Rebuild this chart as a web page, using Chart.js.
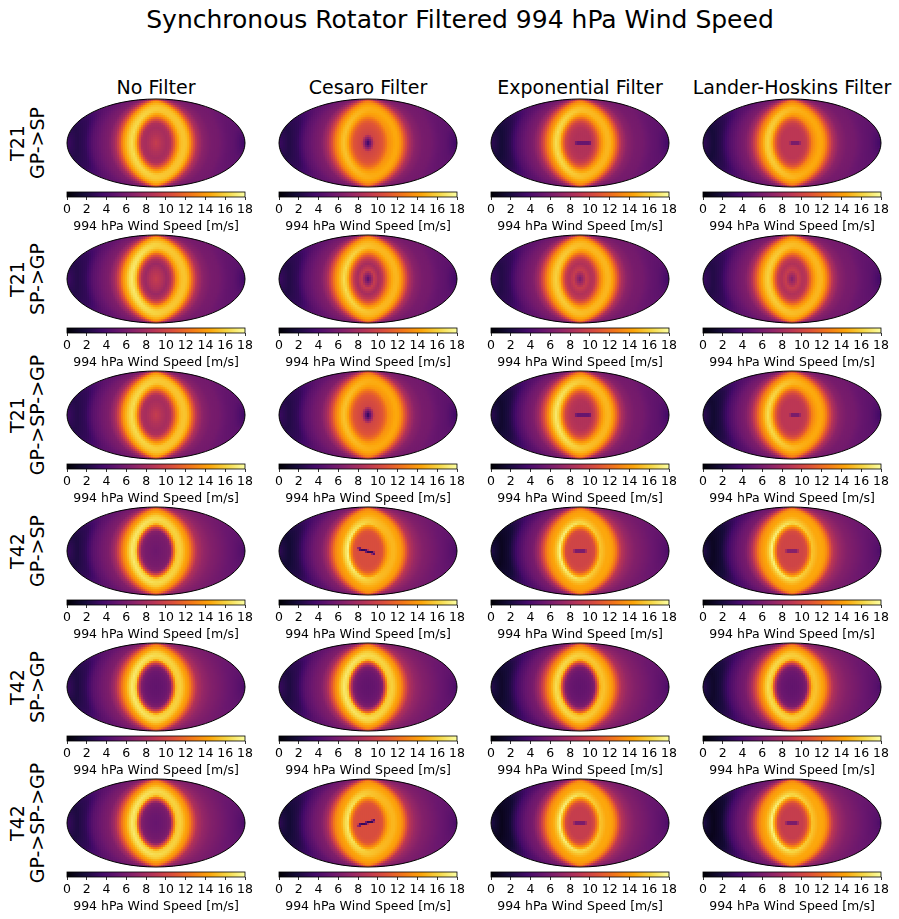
<!DOCTYPE html>
<html>
<head>
<meta charset="utf-8">
<script src="https://cdn.jsdelivr.net/npm/chart.js@4.4.1/dist/chart.umd.min.js"></script>
<style>
  body { margin: 0; background: #fff; width: 899px; height: 919px; position: relative; overflow: hidden; font-family: "DejaVu Sans", sans-serif; }
  canvas { position: absolute; }
  .txt { position: absolute; white-space: nowrap; color: #000; line-height: 1; transform: translate(-50%, -50%); }
  .rowlab { position: absolute; white-space: nowrap; color: #000; font-size: 19px; line-height: 20px; text-align: center; transform: translate(-50%, -50%) rotate(-90deg); }
</style>
</head>
<body>
<script>
// wind speed profiles (m/s), against angular distance (deg) from the substellar point
// W = western half of the map, E = eastern half
const angles = [0, 13, 22, 29, 35, 41, 48, 54, 60, 67, 73, 83, 95, 111, 127, 143, 159, 172, 180];

const t21GpSpNoneW   = [9.5, 8.5, 8, 8.5, 11.5, 15, 16.5, 16, 15, 13.5, 11, 8, 6.3, 5.6, 4.7, 3, 2.4, 3, 3.5];
const t21GpSpNoneE   = [9.5, 8.5, 8, 8.5, 10.5, 13, 15, 15.5, 15.5, 14.5, 12, 8.5, 6.8, 6, 5.8, 5.2, 4.8, 4, 3.5];
const t21GpSpCesaroW = [3, 10, 10.5, 11, 12.5, 14.5, 15.5, 15, 14, 12.5, 10.5, 8, 6.3, 5.6, 4.7, 3, 2.3, 2.9, 3.4];
const t21GpSpCesaroE = [3, 10, 10.5, 11, 12, 13.5, 14, 14.5, 14.5, 13.5, 11.5, 8.5, 6.8, 6, 5.8, 5.2, 4.8, 4, 3.5];
const t21GpSpExpW    = [8.5, 8.5, 9, 10, 12.5, 15.5, 16.5, 15.5, 14, 12.5, 10.5, 7.8, 6.2, 5.4, 4.3, 2.5, 1.7, 2.4, 3];
const t21GpSpExpE    = [8.5, 8.5, 8.5, 9.5, 11, 13, 14.5, 15, 15, 14, 12, 8.5, 6.8, 6, 5.8, 5.2, 4.8, 4, 3.5];
const t21GpSpLhW     = [9, 9, 9, 10, 12, 15, 16, 15.5, 14, 12.5, 10.5, 7.8, 6.2, 5.4, 4.3, 2.6, 1.8, 2.5, 3];
const t21GpSpLhE     = [9, 9, 9, 9.5, 11, 13, 14, 14.5, 14.5, 13.5, 11.5, 8.5, 6.8, 6, 5.8, 5.2, 4.8, 4, 3.5];

const t21SpGpNoneW   = [9.5, 8.5, 7.5, 8.5, 11.5, 15.5, 17, 16.5, 15, 13.5, 11, 8, 6.3, 5.6, 4.7, 3, 2.4, 3, 3.5];
const t21SpGpNoneE   = [9.5, 8.5, 7.5, 8.5, 10.5, 13.5, 15, 15.5, 15.5, 14.5, 12, 8.5, 6.8, 6, 5.8, 5.2, 4.8, 4, 3.5];
const t21SpGpCesaroW = [4.5, 9.5, 8, 9.5, 12, 15, 16.5, 15.5, 14.5, 13, 11, 8, 6.3, 5.6, 4.7, 3, 2.3, 2.9, 3.4];
const t21SpGpCesaroE = [4.5, 9.5, 8, 9, 11, 13, 14.5, 15, 15, 14, 12, 8.5, 6.8, 6, 5.8, 5.2, 4.8, 4, 3.5];
const t21SpGpExpW    = [6, 9.5, 8.5, 9.5, 12, 15, 16, 15.5, 14.5, 13, 11, 8, 6.3, 5.6, 4.7, 3, 2.3, 2.9, 3.4];
const t21SpGpExpE    = [6, 9.5, 8.5, 9, 11, 13, 14.5, 15, 15, 14, 12, 8.5, 6.8, 6, 5.8, 5.2, 4.8, 4, 3.5];
const t21SpGpLhW     = [6.5, 9.5, 8.5, 9.5, 12, 15, 16, 15.5, 14.5, 13, 11, 8, 6.3, 5.6, 4.7, 3, 2.3, 2.9, 3.4];
const t21SpGpLhE     = [6.5, 9.5, 8.5, 9, 11, 13, 14.5, 15, 15, 14, 12, 8.5, 6.8, 6, 5.8, 5.2, 4.8, 4, 3.5];

const t21GpSpGpNoneW   = [9.5, 8.5, 8, 8.5, 11.5, 15, 16.5, 16, 15, 13.5, 11, 8, 6.3, 5.6, 4.7, 3, 2.4, 3, 3.5];
const t21GpSpGpNoneE   = [9.5, 8.5, 8, 8.5, 10.5, 13, 15, 15.5, 15.5, 14.5, 12, 8.5, 6.8, 6, 5.8, 5.2, 4.8, 4, 3.5];
const t21GpSpGpCesaroW = [2.5, 10, 10.5, 11, 12.5, 14.5, 15.5, 15, 14, 12.5, 10.5, 8, 6.3, 5.6, 4.7, 3, 2.3, 2.9, 3.4];
const t21GpSpGpCesaroE = [2.5, 10, 10.5, 11, 12, 13.5, 14, 14.5, 14.5, 13.5, 11.5, 8.5, 6.8, 6, 5.8, 5.2, 4.8, 4, 3.5];
const t21GpSpGpExpW    = [8.5, 8.5, 9, 10, 12.5, 15.5, 17, 16, 14.5, 12.5, 10.5, 7.8, 6.2, 5.4, 4.1, 2.2, 1.4, 2.2, 2.9];
const t21GpSpGpExpE    = [8.5, 8.5, 8.5, 9.5, 11, 13, 14.5, 15, 15, 14, 12, 8.5, 6.8, 6, 5.8, 5.2, 4.8, 4, 3.5];
const t21GpSpGpLhW     = [9, 9, 9, 10, 12, 15, 16.5, 15.5, 14, 12.5, 10.5, 7.8, 6.2, 5.4, 4.1, 2.3, 1.5, 2.3, 2.9];
const t21GpSpGpLhE     = [9, 9, 9, 9.5, 11, 13, 14, 14.5, 14.5, 13.5, 11.5, 8.5, 6.8, 6, 5.8, 5.2, 4.8, 4, 3.5];

const t42GpSpNoneW   = [5.5, 5.8, 6, 6.8, 10, 16, 17, 16, 14.5, 13, 11, 8, 6.3, 5.6, 4.7, 2.9, 2.1, 2.8, 3.3];
const t42GpSpNoneE   = [5.5, 5.8, 6, 6.5, 11.5, 15.5, 16, 15.5, 14.5, 13.5, 11.5, 8.5, 7.3, 6.5, 6, 5.5, 5, 4.5, 3.8];
const t42GpSpCesaroW = [10.5, 10.5, 10.5, 11, 13.5, 17.5, 16, 14.5, 14, 13, 11, 8, 6.3, 5.5, 4.2, 2.4, 1.6, 2.3, 3];
const t42GpSpCesaroE = [10.5, 10.5, 10.5, 11, 13, 14.5, 15, 15, 14.5, 14, 12.5, 9, 7.5, 6.5, 6, 5.5, 5, 4.5, 3.8];
const t42GpSpExpW    = [10, 10, 10, 10.5, 14, 17.5, 15.5, 14.5, 14, 13, 11, 8, 6, 5.2, 3.8, 1.7, 0.9, 1.7, 2.7];
const t42GpSpExpE    = [10, 10, 10, 10.5, 13, 15.5, 15, 14.5, 14.5, 14, 12.5, 9, 7.5, 6.5, 6, 5.5, 5, 4.5, 3.8];
const t42GpSpLhW     = [10, 10, 10, 10.5, 14, 17.5, 15.5, 14.5, 14, 13, 11, 8, 6, 5.2, 3.8, 1.8, 1, 1.8, 2.7];
const t42GpSpLhE     = [10, 10, 10, 10.5, 13, 15.5, 15, 14.5, 14.5, 14, 12.5, 9, 7.5, 6.5, 6, 5.5, 5, 4.5, 3.8];

const t42SpGpNoneW   = [5, 5.2, 5.5, 6.3, 9.5, 16, 17, 16, 14.5, 13, 11, 8, 6.3, 5.6, 4.7, 2.9, 2.1, 2.8, 3.3];
const t42SpGpNoneE   = [5, 5.2, 5.5, 6.3, 11, 15.5, 16, 15.5, 14.5, 13.5, 11.5, 8.5, 7.3, 6.5, 6, 5.5, 5, 4.5, 3.8];
const t42SpGpCesaroW = [5, 5.2, 5.5, 6.3, 9.5, 16, 17, 16, 14.5, 13, 11, 8, 6.3, 5.6, 4.7, 2.9, 2.1, 2.8, 3.3];
const t42SpGpCesaroE = [5, 5.2, 5.5, 6.3, 11, 15.5, 16, 15.5, 14.5, 13.5, 11.5, 8.5, 7.3, 6.5, 6, 5.5, 5, 4.5, 3.8];
const t42SpGpExpW    = [5, 5.2, 5.5, 6.3, 9.5, 15.5, 16.5, 15.5, 14, 12.5, 10.5, 7.8, 6, 5.2, 3.9, 2.1, 1.3, 2, 2.8];
const t42SpGpExpE    = [5, 5.2, 5.5, 6.3, 11, 15, 15.5, 15, 14.5, 13.5, 11.5, 8.5, 7.3, 6.5, 6, 5.5, 5, 4.5, 3.8];
const t42SpGpLhW     = [5, 5.2, 5.5, 6.3, 9.5, 15.5, 16.5, 15.5, 14, 12.5, 10.5, 7.8, 6, 5.2, 3.9, 2.1, 1.3, 2, 2.8];
const t42SpGpLhE     = [5, 5.2, 5.5, 6.3, 11, 15, 15.5, 15, 14.5, 13.5, 11.5, 8.5, 7.3, 6.5, 6, 5.5, 5, 4.5, 3.8];

const t42GpSpGpNoneW   = [5.3, 5.5, 5.8, 6.5, 10, 16, 17, 16, 14.5, 13, 11, 8, 6.3, 5.6, 4.7, 2.9, 2.1, 2.8, 3.3];
const t42GpSpGpNoneE   = [5.3, 5.5, 5.8, 6.5, 11.5, 15.5, 16, 15.5, 14.5, 13.5, 11.5, 8.5, 7.3, 6.5, 6, 5.5, 5, 4.5, 3.8];
const t42GpSpGpCesaroW = [10.5, 10.5, 10.5, 11, 13.5, 17, 16, 14.5, 14, 13, 11, 8, 6.3, 5.5, 4.2, 2.4, 1.6, 2.3, 3];
const t42GpSpGpCesaroE = [10.5, 10.5, 10.5, 11, 13, 14.5, 15, 15, 14.5, 14, 12.5, 9, 7.5, 6.5, 6, 5.5, 5, 4.5, 3.8];
const t42GpSpGpExpW    = [9.5, 9.5, 9.5, 10.5, 14, 17.5, 15.5, 14.5, 14, 13, 11, 8, 6, 5.2, 3.7, 1.5, 0.8, 1.6, 2.6];
const t42GpSpGpExpE    = [9.5, 9.5, 9.5, 10.5, 13, 15.5, 15, 14.5, 14.5, 14, 12.5, 9, 7.5, 6.5, 6, 5.5, 5, 4.5, 3.8];
const t42GpSpGpLhW     = [9.5, 9.5, 9.5, 10.5, 14, 17.5, 15.5, 14.5, 14, 13, 11, 8, 6, 5.2, 3.7, 1.5, 0.8, 1.6, 2.6];
const t42GpSpGpLhE     = [9.5, 9.5, 9.5, 10.5, 13, 15.5, 15, 14.5, 14.5, 14, 12.5, 9, 7.5, 6.5, 6, 5.5, 5, 4.5, 3.8];

// speed inside the slow streak at the substellar point (row by row, null = no streak)
const centreStreak = [
  null, null, 3.5, 4.5,
  null, null, null, null,
  null, null, 3.5, 4.5,
  null, 3, 2.5, 3.5,
  null, null, null, null,
  null, 3, 3, 3
];

const cbarTicks = [0, 2, 4, 6, 8, 10, 12, 14, 16, 18];
const cbarLabel = '994 hPa Wind Speed [m/s]';
const columnTitles = ['No Filter', 'Cesaro Filter', 'Exponential Filter', 'Lander-Hoskins Filter'];
const rowLabels = [['T21', 'GP->SP'], ['T21', 'SP->GP'], ['T21', 'GP->SP->GP'],
                   ['T42', 'GP->SP'], ['T42', 'SP->GP'], ['T42', 'GP->SP->GP']];
const figTitle = 'Synchronous Rotator Filtered 994 hPa Wind Speed';

const profiles = [
  [[t21GpSpNoneW, t21GpSpNoneE], [t21GpSpCesaroW, t21GpSpCesaroE], [t21GpSpExpW, t21GpSpExpE], [t21GpSpLhW, t21GpSpLhE]],
  [[t21SpGpNoneW, t21SpGpNoneE], [t21SpGpCesaroW, t21SpGpCesaroE], [t21SpGpExpW, t21SpGpExpE], [t21SpGpLhW, t21SpGpLhE]],
  [[t21GpSpGpNoneW, t21GpSpGpNoneE], [t21GpSpGpCesaroW, t21GpSpGpCesaroE], [t21GpSpGpExpW, t21GpSpGpExpE], [t21GpSpGpLhW, t21GpSpGpLhE]],
  [[t42GpSpNoneW, t42GpSpNoneE], [t42GpSpCesaroW, t42GpSpCesaroE], [t42GpSpExpW, t42GpSpExpE], [t42GpSpLhW, t42GpSpLhE]],
  [[t42SpGpNoneW, t42SpGpNoneE], [t42SpGpCesaroW, t42SpGpCesaroE], [t42SpGpExpW, t42SpGpExpE], [t42SpGpLhW, t42SpGpLhE]],
  [[t42GpSpGpNoneW, t42GpSpGpNoneE], [t42GpSpGpCesaroW, t42GpSpGpCesaroE], [t42GpSpGpExpW, t42GpSpGpExpE], [t42GpSpGpLhW, t42GpSpGpLhE]]
];

// ---- layout / style ----
const VMAX = 18;
const XMAX = 2 * Math.SQRT2, YMAX = Math.SQRT2;   // mollweide extent
const LAT_SQUEEZE = 0.85;                         // the jet ring is stretched north-south
const K = 1.45;
const NX = 89, NY = 44;
const STEPX = 2 * XMAX / NX, STEPY = 2 * YMAX / NY;
const MAP_X0 = 67, MAP_Y0 = 99, COL_STEP = 212, ROW_STEP = 136, MAP_W = 178, MAP_H = 88;

function streakShape(row, col) {
  if (row < 3) return { cx: 0.1, len: col === 3 ? 0.18 : 0.28, th: 0.05, slope: 0 };
  if (col === 1) return { cx: -0.05, len: 0.3, th: 0.055, slope: row === 3 ? -0.3 : 0.3 };
  return { cx: 0, len: 0.22, th: 0.045, slope: 0 };
}

const INFERNO = [[0,0,4],[22,11,57],[66,10,104],[106,23,110],[147,38,103],[188,55,84],
                 [221,81,58],[243,120,25],[252,165,10],[246,215,70],[252,255,164]];
function inferno(t) {
  t = Math.max(0, Math.min(1, t)) * 10;
  const i = Math.min(9, Math.floor(t)), f = t - i, a = INFERNO[i], b = INFERNO[i + 1];
  return 'rgb(' + Math.round(a[0] + f * (b[0] - a[0])) + ',' + Math.round(a[1] + f * (b[1] - a[1])) + ',' + Math.round(a[2] + f * (b[2] - a[2])) + ')';
}

function interp(xs, ys, x) {
  if (x <= xs[0]) return ys[0];
  for (let i = 1; i < xs.length; i++) {
    if (x <= xs[i]) return ys[i - 1] + (x - xs[i - 1]) / (xs[i] - xs[i - 1]) * (ys[i] - ys[i - 1]);
  }
  return ys[ys.length - 1];
}

const clamp1 = v => Math.max(-1, Math.min(1, v));

function buildField(west, east, streak, shape) {
  const pts = [];
  for (let j = 0; j < NY; j++) {
    const y = -YMAX + (j + 0.5) * STEPY;
    for (let i = 0; i < NX; i++) {
      const x = -XMAX + (i + 0.5) * STEPX;
      if ((x / XMAX) ** 2 + (y / YMAX) ** 2 > 1.06) continue;
      // inverse mollweide
      const th = Math.asin(clamp1(y / YMAX));
      const lat = Math.asin(clamp1((2 * th + Math.sin(2 * th)) / Math.PI));
      const lon = Math.max(-Math.PI, Math.min(Math.PI, Math.PI * x / (XMAX * Math.max(1e-6, Math.cos(th)))));
      const d = Math.acos(clamp1(Math.cos(LAT_SQUEEZE * lat) * Math.cos(lon))) * 180 / Math.PI;
      const rr = Math.hypot(x, y / K);
      const wE = rr > 0 ? (1 + x / rr) / 2 : 0.5;
      let v = wE * interp(angles, east, d) + (1 - wE) * interp(angles, west, d);
      if (streak != null) {
        const u = x - shape.cx, w = y - shape.slope * u;
        const a = Math.abs(u) / shape.len, b = Math.abs(w) / shape.th;
        if (a < 1 && b < 1) v += (streak - v) * Math.min(1, (1 - b) * 1.8) * Math.min(1, (1 - a) * 4);
      }
      pts.push({ x: x, y: y, v: v });
    }
  }
  return pts;
}

function ellipseOf(chart) {
  const sx = chart.scales.x, sy = chart.scales.y;
  const cx = sx.getPixelForValue(0), cy = sy.getPixelForValue(0);
  return { cx: cx, cy: cy, rx: sx.getPixelForValue(XMAX) - cx, ry: cy - sy.getPixelForValue(YMAX) };
}

const ellipseFrame = {
  id: 'ellipseFrame',
  beforeDatasetsDraw(chart) {
    const e = ellipseOf(chart), ctx = chart.ctx;
    ctx.save();
    ctx.beginPath();
    ctx.ellipse(e.cx, e.cy, e.rx, e.ry, 0, 0, 2 * Math.PI);
    ctx.clip();
  },
  afterDatasetsDraw(chart) {
    const e = ellipseOf(chart), ctx = chart.ctx;
    ctx.restore();
    ctx.save();
    ctx.beginPath();
    ctx.ellipse(e.cx, e.cy, e.rx, e.ry, 0, 0, 2 * Math.PI);
    ctx.lineWidth = 1;
    ctx.strokeStyle = '#000';
    ctx.stroke();
    ctx.restore();
  }
};

const colorbarFill = {
  id: 'colorbarFill',
  beforeDatasetsDraw(chart) {
    const a = chart.chartArea, sx = chart.scales.x, ctx = chart.ctx;
    const x0 = sx.getPixelForValue(0), x1 = sx.getPixelForValue(VMAX);
    const g = ctx.createLinearGradient(x0, 0, x1, 0);
    for (let k = 0; k <= 10; k++) g.addColorStop(k / 10, inferno(k / 10));
    ctx.save();
    ctx.fillStyle = g;
    ctx.fillRect(x0, a.top, x1 - x0, a.bottom - a.top);
    ctx.lineWidth = 0.8;
    ctx.strokeStyle = '#000';
    ctx.strokeRect(x0, a.top, x1 - x0, a.bottom - a.top);
    ctx.restore();
  }
};

function addCanvas(left, top, w, h) {
  const c = document.createElement('canvas');
  c.width = w; c.height = h;
  c.style.left = left + 'px'; c.style.top = top + 'px';
  c.style.width = w + 'px'; c.style.height = h + 'px';
  document.body.appendChild(c);
  return c;
}

function addText(text, cx, cy, size) {
  const d = document.createElement('div');
  d.className = 'txt';
  d.textContent = text;
  d.style.left = cx + 'px'; d.style.top = cy + 'px'; d.style.fontSize = size + 'px';
  document.body.appendChild(d);
}

function mapChart(canvas, pts) {
  return new Chart(canvas, {
    type: 'scatter',
    data: {
      datasets: [{
        data: pts,
        pointStyle: 'rect',
        borderWidth: 0,
        pointRadius: c => {
          const sx = c.chart.scales.x;
          return Math.abs(sx.getPixelForValue(STEPX) - sx.getPixelForValue(0)) * 0.5 * Math.SQRT2 * 1.02;
        },
        backgroundColor: c => c.raw ? inferno(c.raw.v / VMAX) : '#000'
      }]
    },
    options: {
      responsive: false,
      animation: false,
      events: [],
      parsing: false,
      layout: { padding: 3 },
      plugins: { legend: { display: false }, tooltip: { enabled: false } },
      scales: {
        x: { type: 'linear', min: -XMAX, max: XMAX, display: false },
        y: { type: 'linear', min: -YMAX, max: YMAX, display: false }
      }
    },
    plugins: [ellipseFrame]
  });
}

function colorbarChart(canvas) {
  return new Chart(canvas, {
    type: 'scatter',
    data: { datasets: [] },
    options: {
      responsive: false,
      animation: false,
      events: [],
      layout: { padding: { left: 14, right: 14, top: 2, bottom: 0 } },
      plugins: { legend: { display: false }, tooltip: { enabled: false } },
      scales: {
        x: {
          type: 'linear', min: 0, max: VMAX,
          afterFit: s => { s.height = 37; },
          afterBuildTicks: s => { s.ticks = cbarTicks.map(v => ({ value: v })); },
          ticks: { color: '#000', font: { family: 'DejaVu Sans', size: 12.5 }, padding: 2, maxRotation: 0, autoSkip: false },
          grid: { drawOnChartArea: false, tickLength: 3, color: '#000', lineWidth: 0.8 },
          border: { display: false },
          title: { display: true, text: cbarLabel, color: '#000', font: { family: 'DejaVu Sans', size: 12.5 }, padding: 0 }
        },
        y: { display: false, min: 0, max: 1 }
      }
    },
    plugins: [colorbarFill]
  });
}

addText(figTitle, 460, 19, 25);
columnTitles.forEach((t, c) => addText(t, MAP_X0 + c * COL_STEP + MAP_W / 2, 87, 19));
rowLabels.forEach((lines, r) => {
  const d = document.createElement('div');
  d.className = 'rowlab';
  lines.forEach((s, k) => { if (k) d.appendChild(document.createElement('br')); d.appendChild(document.createTextNode(s)); });
  d.style.left = '27px';
  d.style.top = (MAP_Y0 + r * ROW_STEP + MAP_H / 2) + 'px';
  document.body.appendChild(d);
});

for (let r = 0; r < 6; r++) {
  for (let c = 0; c < 4; c++) {
    const left = MAP_X0 + c * COL_STEP, top = MAP_Y0 + r * ROW_STEP;
    const [west, east] = profiles[r][c];
    const pts = buildField(west, east, centreStreak[r * 4 + c], streakShape(r, c));
    mapChart(addCanvas(left - 3, top - 3, MAP_W + 6, MAP_H + 6), pts);
    colorbarChart(addCanvas(left - 14, top + 91, MAP_W + 28, 44));
  }
}
</script>
</body>
</html>
